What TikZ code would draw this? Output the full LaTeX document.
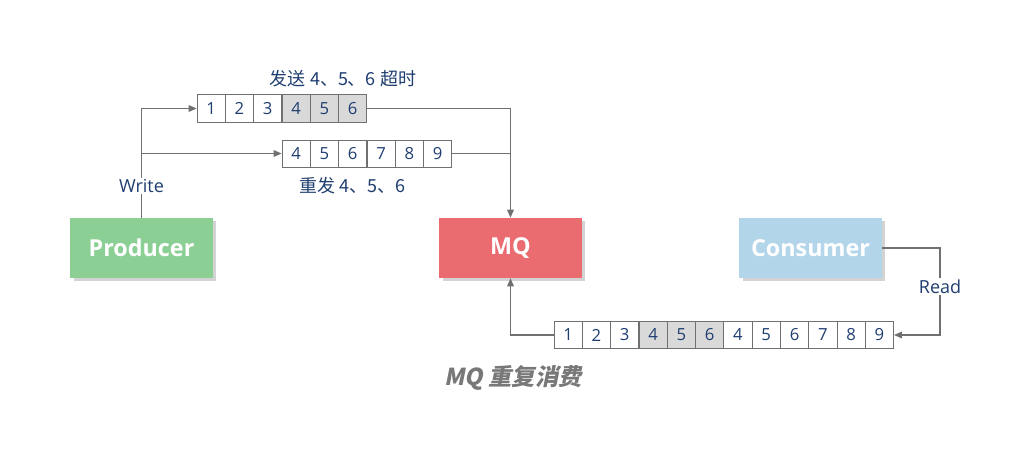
\documentclass[tikz,border=0pt]{standalone}
\usepackage{fontspec}
\usepackage{xcolor}
\usepackage{tikz}
\usetikzlibrary{arrows.meta,shadows}
\setmainfont{Open Sans}
\newfontfamily\cjk{Noto Sans CJK SC}
\newfontfamily\titlefont[FakeSlant=0.2]{Noto Sans CJK SC}
\definecolor{prodgreen}{RGB}{140,207,149}
\definecolor{mqred}{RGB}{234,108,112}
\definecolor{consblue}{RGB}{179,213,234}
\definecolor{cellgray}{RGB}{217,217,217}
\definecolor{numblue}{RGB}{31,62,112}
\definecolor{linegray}{RGB}{112,112,112}
\definecolor{titlegray}{RGB}{120,120,120}

\tikzset{
  role/.style={minimum width=107pt, minimum height=45pt, inner sep=0pt,
    font=\fontsize{17.5}{20}\selectfont\bfseries, text=white,
    drop shadow={shadow xshift=2.5pt, shadow yshift=-2.5pt, opacity=0.35, fill=gray}},
  cell/.style={draw=linegray, line width=0.6pt, minimum width=21.2pt, minimum height=20.4pt,
    inner sep=0pt, font=\fontsize{12.5}{14}\selectfont, text=numblue},
  link/.style={draw=linegray, line width=0.8pt},
  arrow/.style={link, -{Triangle[length=6pt, width=5pt]}},
  caption/.style={font=\fontsize{13.5}{15}\selectfont, text=numblue, inner sep=1pt}
}

\begin{document}
\begin{tikzpicture}[x=0.75pt,y=0.75pt,yscale=-1]
\useasboundingbox (0,0) rectangle (1024,460);

% Boxes
\node [role, fill=prodgreen] (producer) at (141.5,248) {Producer};
\node [role, fill=mqred] (mq) at (510.5,248) {MQ};
\node [role, fill=consblue] (consumer) at (810.5,248) {Consumer};

% Queue: sent
\foreach \n/\f [count=\i] in {1/white,2/white,3/white,4/cellgray,5/cellgray,6/cellgray}
  \node [cell, fill=\f] (sent\i) at ({211.15+28.3*(\i-1)},108.5) {\n};
% Queue: resent
\foreach \n [count=\i] in {4,...,9}
  \node [cell, fill=white] (resend\i) at ({296.15+28.3*(\i-1)},153.5) {\n};
% Queue: log
\foreach \n/\f [count=\i] in {1/white,2/white,3/white,4/cellgray,5/cellgray,6/cellgray,4/white,5/white,6/white,7/white,8/white,9/white}
  \node [cell, fill=\f] (log\i) at ({568.15+28.3*(\i-1)},335) {\n};

% Text Node
\node [caption] (sentlabel) at (343,79) {\cjk 发送\ 4、5、6\ 超时};
% Text Node
\node [caption] (resendlabel) at (352,186) {\cjk 重发\ 4、5、6};

% Connectors
\coordinate (split) at (141.5,153.5);
\coordinate (join) at (510.5,153.5);
\coordinate (readturn) at (940,248);
\draw [arrow] (producer.north) -- node [caption, fill=white] {Write} (split) |- (sent1.west);
\draw [arrow] (split) -- (resend1.west);
\draw [arrow] (sent6.east) -| (mq.north);
\draw [link] (resend6.east) -- (join);
\draw [arrow] (consumer.east) -- (readturn) -- node [caption, fill=white, pos=0.44] {Read} (readturn |- log12.east) -- (log12.east);
\draw [arrow] (log1.west) -| (mq.south);

% Title
\node [font=\fontsize{17.5}{20}\selectfont\titlefont\bfseries, text=titlegray] (title) at (513,378) {MQ 重复消费};
\end{tikzpicture}
\end{document}
